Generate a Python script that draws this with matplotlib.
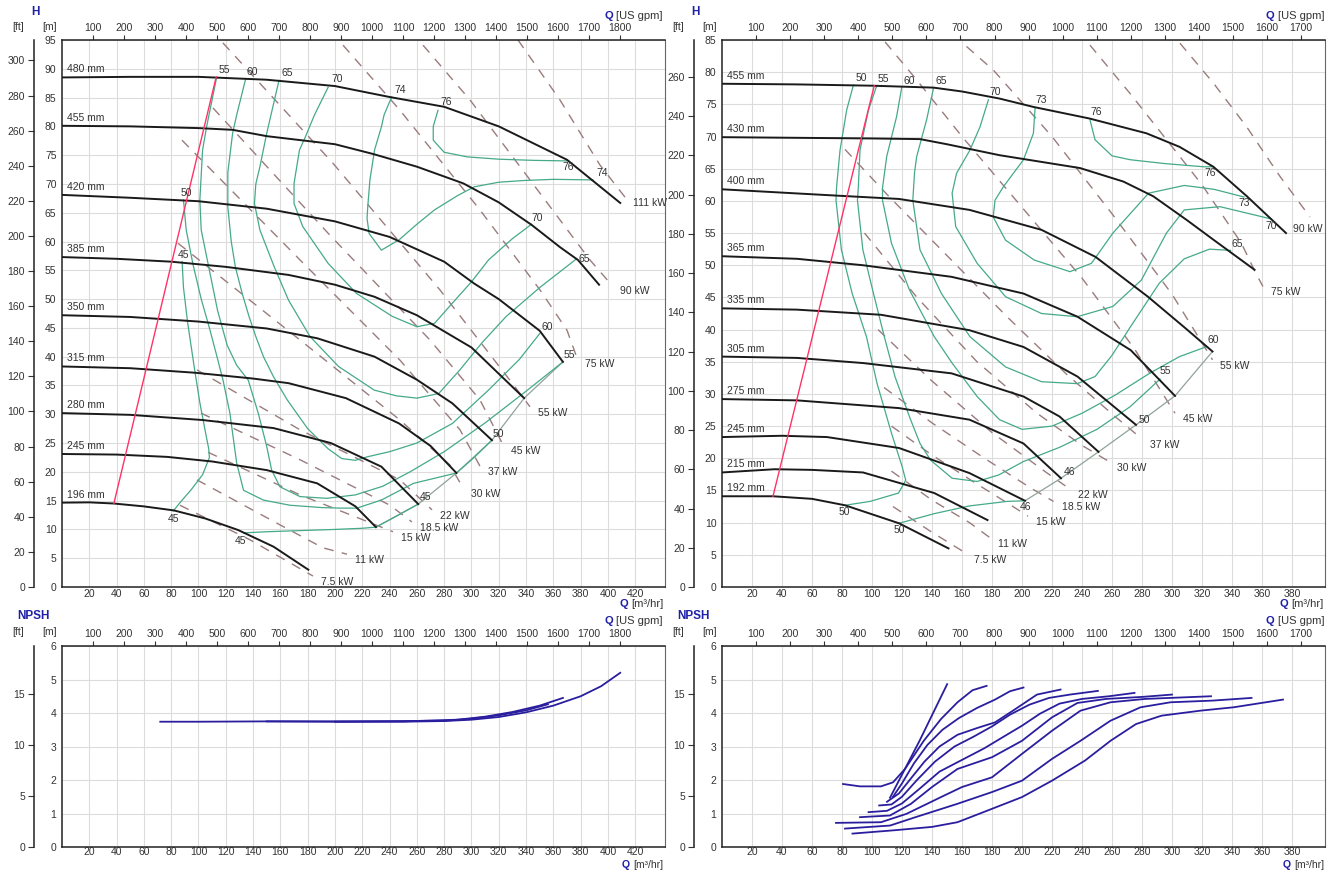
import numpy as np
import matplotlib
matplotlib.use("Agg")
import matplotlib.pyplot as plt

plt.rcParams['font.family'] = ['Liberation Sans', 'DejaVu Sans']

GPM = 4.402868   # US gpm per m3/h
FT = 3.28084     # ft per m

# ======================= LEFT PUMP : H curves =======================
L_q_480 = [0, 50, 100, 150, 200, 240, 280, 320, 370, 409]
L_h_480 = [88.5, 88.6, 88.6, 88.1, 87.0, 85.1, 83.4, 80.0, 74.2, 66.7]
L_q_455 = [0, 50, 100, 125, 150, 200, 228, 260, 294, 320, 344, 365, 378, 393.5]
L_h_455 = [80.1, 80.0, 79.7, 79.4, 78.3, 76.9, 75.2, 73.0, 70.1, 66.8, 62.9, 59.0, 56.8, 52.5]
L_q_420 = [0, 50, 100, 150, 200, 240, 280, 302, 320, 350, 367]
L_h_420 = [68.1, 67.6, 67.0, 65.7, 63.5, 60.8, 56.5, 52.7, 50.0, 44.5, 39.1]
L_q_385 = [0, 40, 80, 120, 166, 200, 229, 260, 300, 338.6]
L_h_385 = [57.3, 57.0, 56.5, 55.6, 54.2, 52.5, 50.4, 47.2, 41.6, 32.8]
L_q_350 = [0, 50, 100, 150, 187, 229, 260, 286, 315]
L_h_350 = [47.2, 46.9, 46.1, 44.9, 43.2, 40.0, 36.0, 31.9, 25.5]
L_q_315 = [0, 50, 98, 140, 166, 208, 247, 270, 289]
L_h_315 = [38.3, 38.0, 37.2, 36.2, 35.4, 32.8, 28.4, 24.5, 19.8]
L_q_280 = [0, 50, 103, 155, 197, 234, 261]
L_h_280 = [30.2, 29.9, 29.0, 27.6, 25.0, 20.9, 14.4]
L_q_245 = [0, 40, 77, 110, 150, 187, 215, 230]
L_h_245 = [23.1, 23.0, 22.6, 21.8, 20.3, 18.0, 14.0, 10.4]
L_q_196 = [0, 20, 38, 60, 82, 105, 129, 155, 180.5]
L_h_196 = [14.65, 14.7, 14.5, 14.0, 13.3, 11.9, 9.9, 7.0, 3.0]
L_diam_names = ['480 mm', '455 mm', '420 mm', '385 mm', '350 mm', '315 mm', '280 mm', '245 mm', '196 mm']
L_q_min = [38, 113]
L_h_min = [14.5, 88.6]

# efficiency iso-lines (left)
L_q_e45a = [88, 89, 92, 97, 101, 105, 107.5, 108, 103, 95, 87, 81.5]
L_h_e45a = [56.5, 52, 46, 38, 32, 27, 24, 22.5, 19.5, 17, 14.8, 13.2]
L_q_e45b = [133, 150, 175, 200, 220, 230, 245, 261]
L_h_e45b = [9.4, 9.6, 9.8, 10.0, 10.2, 10.4, 12.3, 14.4]
L_q_e50 = [89, 91, 96, 102, 108, 113, 118, 123, 128, 133, 147.5, 167, 190, 204, 216, 234, 257.5, 289, 302, 315]
L_h_e50 = [67.2, 62, 56, 50, 45, 40.5, 35.9, 30.2, 21.5, 16.8, 15.1, 14.2, 13.8, 13.7, 13.7, 15.1, 18.0, 19.8, 22.5, 25.5]
L_q_e55 = [113.3, 106, 103, 101, 102, 108, 114, 121, 128, 136.5, 144, 150, 153.6, 159.7, 174.4, 194, 215, 235, 255, 280, 310, 340, 367]
L_h_e55 = [88.5, 80, 75.9, 67.2, 62, 55, 48, 42, 38.5, 35.9, 30, 24.4, 20.3, 17.4, 15.7, 15.4, 16, 17.5, 20, 23.5, 28.5, 34, 39.1]
L_q_e60 = [134.6, 128, 125, 121.5, 121.5, 124, 127, 132, 137, 142, 147.6, 155, 165, 180, 195, 205, 215, 223.5, 240, 260, 286, 312.5, 335, 350]
L_h_e60 = [88.3, 82, 78.8, 72, 66, 60, 55.6, 51, 47, 43.5, 40, 36.5, 32.5, 27.5, 24, 22.3, 22, 22.6, 23.5, 25, 28.4, 34.2, 39.5, 44.0]
L_q_e65 = [159, 150, 145, 142, 141, 145, 155.5, 166, 181.7, 202.6, 228.7, 245, 260, 276, 291.5, 308, 325.5, 350, 377]
L_h_e65 = [88, 78.8, 73, 70, 66.6, 62, 55.6, 49.8, 43.5, 38.3, 34.2, 33.2, 32.8, 33.6, 37.7, 42.5, 47, 52, 57.0]
L_q_e70 = [195, 185, 178, 174, 172, 170, 170, 176.4, 195, 215.7, 242, 260, 273, 286, 300, 312.5, 330, 344]
L_h_e70 = [86.8, 82, 78, 75.9, 73, 70.1, 66.6, 62.6, 56.2, 51, 47, 45.2, 45.8, 49.3, 53, 56.8, 60.5, 63]
L_q_e74 = [241.5, 236, 234, 229, 225.6, 224, 223.5, 225, 234, 247, 260, 273, 290, 302, 320, 338.6, 360, 389]
L_h_e74 = [85.1, 82, 79.9, 75.9, 70.7, 66, 64, 61.4, 58.5, 60.3, 63, 65.5, 68, 69.5, 70.3, 70.6, 70.8, 70.7]
L_q_e76 = [275.5, 272, 272, 280, 297, 320, 345, 370]
L_h_e76 = [82.8, 80, 77.6, 75.5, 74.7, 74.3, 74.1, 74.0]

# power lines (left)
L_q_p111 = [334.1, 364.8, 394.1, 412.5]
L_h_p111 = [95.0, 84.6, 73.3, 67.7]
L_q_p90 = [264.5, 298.9, 342.9, 386.8, 402.9]
L_h_p90 = [94.1, 84.6, 70.7, 56.8, 52.4]
L_q_p75 = [205.9, 247.6, 306.2, 350.2, 370.0, 377.3]
L_h_p75 = [94.1, 82.8, 65.5, 51.6, 44.6, 39.8]
L_q_p55 = [117.9, 198.5, 276.9, 328.2, 342.9]
L_h_p55 = [94.5, 73.6, 51.6, 35.9, 31.3]
L_q_p45 = [110.6, 196.3, 269.6, 306.2, 323.1]
L_h_p45 = [83.2, 61.1, 42.9, 32.5, 24.7]
L_q_p37 = [87.9, 174.4, 247.6, 291.6, 306.2]
L_h_p37 = [77.6, 56.8, 39.4, 27.3, 21.0]
L_q_p30 = [85, 174.4, 247.6, 284.2, 293.8]
L_h_p30 = [59.7, 42.9, 29.0, 21.2, 17.2]
L_q_p22 = [98.9, 174.4, 247.6, 271.1]
L_h_p22 = [37.7, 27.3, 18.6, 13.4]
L_q_p18 = [101.8, 174.4, 240.3, 256.4]
L_h_p18 = [30.2, 22.1, 14.2, 11.3]
L_q_p15 = [107, 174.4, 242.5]
L_h_p15 = [23.4, 16.0, 9.6]
L_q_p11 = [98.9, 159.7, 191.2, 208.8]
L_h_p11 = [18.6, 10.8, 6.8, 5.7]
L_q_p7 = [86.4, 137.7, 183.9]
L_h_p7 = [14.2, 8.2, 1.9]

# ======================= RIGHT PUMP : H curves =======================
R_q_455 = [0, 50, 100, 141, 160, 185, 207.6, 245, 283, 305, 327.6, 350, 376]
R_h_455 = [78.2, 78.1, 77.9, 77.6, 77.0, 75.9, 74.6, 72.8, 70.5, 68.4, 65.3, 60.7, 55.0]
R_q_430 = [0, 50, 100, 132, 150, 185, 238.7, 267.6, 287.6, 310, 328, 355]
R_h_430 = [69.9, 69.8, 69.7, 69.6, 68.8, 67.1, 65.1, 63.0, 60.7, 57.0, 53.9, 49.3]
R_q_400 = [0, 70, 118, 165, 213, 249, 284, 308, 327]
R_h_400 = [61.8, 60.9, 60.3, 58.6, 55.5, 51.3, 45.1, 40.4, 36.6]
R_q_365 = [0, 50, 94, 153, 201, 237, 272.5, 302]
R_h_365 = [51.4, 51.0, 50.0, 48.2, 45.6, 42.0, 36.8, 29.7]
R_q_335 = [0, 50, 106, 165, 201, 237, 276]
R_h_335 = [43.3, 43.1, 42.3, 39.9, 37.3, 32.7, 25.2]
R_q_305 = [0, 50, 94, 153, 201, 225, 251]
R_h_305 = [35.8, 35.6, 34.8, 33.2, 29.6, 26.5, 21.0]
R_q_275 = [0, 50, 118, 165, 201, 226]
R_h_275 = [29.2, 29.0, 27.8, 26.0, 22.3, 16.9]
R_q_245 = [0, 40, 70, 118, 165, 202]
R_h_245 = [23.3, 23.5, 23.3, 21.6, 17.7, 13.4]
R_q_215 = [0, 35, 60, 94, 141.5, 177]
R_h_215 = [17.8, 18.3, 18.2, 17.8, 14.6, 10.4]
R_q_192 = [0, 34, 60, 82, 118, 151]
R_h_192 = [14.1, 14.1, 13.7, 12.7, 9.9, 6.0]
R_diam_names = ['455 mm', '430 mm', '400 mm', '365 mm', '335 mm', '305 mm', '275 mm', '245 mm', '215 mm', '192 mm']
R_q_min = [34, 101.5]
R_h_min = [14.1, 77.9]

# efficiency iso-lines (right)
R_q_e50a = [87.6, 83.1, 78.7, 76.4, 76, 79.6, 86.8, 96.3, 103.4, 113, 120.1, 122.5, 117.7, 98.7, 82]
R_h_e50a = [78.0, 74.1, 67.9, 62.2, 60.1, 52.4, 45.6, 38.9, 31.6, 23.9, 18.7, 16.6, 14.6, 13.3, 12.7]
R_q_e50b = [118, 141.5, 165, 190, 202]
R_h_e50b = [9.9, 11.4, 12.6, 13.3, 13.4]
R_q_e55 = [103, 97.6, 92, 90.9, 90.3, 93.9, 101, 108.2, 115.3, 124.9, 132, 139.1, 153.4, 170.1, 184.4, 201, 225, 250, 272, 292]
R_h_e55 = [77.8, 74.1, 67.9, 62.2, 60.1, 52.4, 45.6, 38.9, 32.7, 26.5, 22.3, 19.7, 16.9, 16.4, 17.4, 19.5, 21.7, 24.5, 28.0, 32.3]
R_q_e60 = [119.8, 116.4, 109.8, 107, 107, 113, 124.9, 141.5, 153.4, 170.1, 185, 200, 220, 240, 262, 285, 305, 322.5]
R_h_e60 = [77.6, 73.1, 66.9, 62, 60.1, 53.4, 46.2, 38.9, 34.8, 29.6, 26, 24.5, 25, 27, 29.8, 33.2, 35.8, 37.3]
R_q_e65 = [141, 136.4, 129.8, 128.4, 127.2, 132, 146.3, 165.3, 189, 213, 236.8, 248.7, 260, 272.5, 291.5, 308.2, 325, 339]
R_h_e65 = [77.5, 72.6, 66.9, 64.5, 60.1, 52.4, 45.6, 38.9, 34.2, 31.9, 31.6, 32.7, 36, 40.5, 47.2, 51.0, 52.5, 52.3]
R_q_e70 = [177.6, 172, 165.3, 156.4, 153.4, 155.8, 170.1, 189.1, 213, 236.8, 260.6, 279.6, 296.3, 308.2, 332, 366]
R_h_e70 = [75.7, 71.5, 67.9, 64.3, 61.2, 56, 50.3, 45.1, 42.5, 42, 43.6, 47.7, 55, 58.6, 59.1, 57.2]
R_q_e73 = [208.7, 207.6, 201, 187.6, 182, 180.8, 189, 208.2, 232, 246.3, 260.6, 284.4, 308.2, 328, 348]
R_h_e73 = [74.4, 70.5, 66.4, 62.2, 60.1, 57.5, 53.9, 50.8, 49.0, 50.3, 55, 61.2, 62.4, 61.8, 60.6]
R_q_e76 = [245.3, 248.7, 260, 272, 295, 321, 327]
R_h_e76 = [72.6, 69.5, 67, 66.4, 65.8, 65.3, 65.3]

# power lines (right)
R_q_p90 = [305.3, 327.6, 349.8, 372, 392]
R_h_p90 = [84.5, 78.3, 71.5, 63.8, 57.5]
R_q_p75 = [245.3, 272, 296.4, 320, 346.3, 355.8, 360.6]
R_h_p75 = [84.2, 76.7, 69.5, 62.5, 53.4, 48.8, 46.7]
R_q_p55 = [163, 181, 220, 260, 300, 327]
R_h_p55 = [84, 80.3, 70, 58, 45.5, 35.3]
R_q_p45 = [108.7, 129.8, 160, 200, 240, 275, 302]
R_h_p45 = [84.7, 78.8, 70, 59, 48, 37, 27]
R_q_p37 = [82, 110, 150, 190, 230, 262, 280]
R_h_p37 = [68, 61, 51.5, 42, 33, 26.5, 23]
R_q_p30 = [95, 130, 170, 210, 240, 258]
R_h_p30 = [55, 45, 35, 27, 22, 19.5]
R_q_p22 = [104, 140, 180, 215, 232]
R_h_p22 = [40, 32, 24, 18, 15.2]
R_q_p18 = [108, 140, 175, 205, 221]
R_h_p18 = [31, 25.5, 20, 15.5, 13.3]
R_q_p15 = [113, 140, 170, 192, 204]
R_h_p15 = [25, 20.5, 16, 12.8, 11]
R_q_p11 = [113, 140, 165, 179]
R_h_p11 = [18, 13.5, 10, 7.6]
R_q_p7 = [114, 140, 163]
R_h_p7 = [12.5, 8.5, 5.2]

# ======================= NPSH =======================
NL_q_a = [72, 100, 150, 200, 250, 280, 300, 320, 340, 360, 380, 395, 409]
NL_h_a = [3.74, 3.74, 3.75, 3.74, 3.74, 3.76, 3.80, 3.88, 4.02, 4.22, 4.50, 4.80, 5.20]
NL_q_b = [150, 250, 290, 310, 330, 350, 367]
NL_h_b = [3.75, 3.75, 3.80, 3.89, 4.03, 4.22, 4.45]
NL_q_c = [200, 280, 300, 320, 340, 356]
NL_h_c = [3.74, 3.77, 3.83, 3.93, 4.08, 4.26]

NR_q_455 = [87, 115, 140, 157, 180, 200, 220, 242, 259, 276, 293, 319, 341, 374]
NR_h_455 = [0.40, 0.50, 0.60, 0.74, 1.14, 1.49, 1.98, 2.58, 3.17, 3.67, 3.92, 4.07, 4.17, 4.40]
NR_q_430 = [82, 112, 129, 157, 180, 200, 220, 239, 259, 279, 299, 327, 353]
NR_h_430 = [0.55, 0.64, 0.89, 1.29, 1.64, 1.98, 2.63, 3.17, 3.77, 4.17, 4.32, 4.37, 4.45]
NR_q_400 = [76, 106, 123, 146, 160, 180, 200, 220, 239, 259, 282, 326]
NR_h_400 = [0.72, 0.74, 0.99, 1.49, 1.79, 2.08, 2.78, 3.47, 4.07, 4.32, 4.42, 4.50]
NR_q_365 = [92, 112, 126, 140, 157, 180, 200, 220, 237, 256, 280, 300]
NR_h_365 = [0.89, 0.94, 1.29, 1.79, 2.33, 2.68, 3.17, 3.87, 4.30, 4.42, 4.48, 4.55]
NR_q_335 = [97.7, 110, 120, 132, 145, 160, 175, 188, 200, 212, 225, 240, 258, 275]
NR_h_335 = [1.04, 1.08, 1.30, 1.75, 2.25, 2.60, 2.95, 3.30, 3.62, 3.98, 4.28, 4.42, 4.50, 4.60]
NR_q_305 = [104.8, 113, 120, 130, 142, 155, 168, 180, 192, 205, 218, 232, 250.6]
NR_h_305 = [1.24, 1.27, 1.50, 2.00, 2.55, 3.00, 3.30, 3.60, 3.95, 4.25, 4.45, 4.55, 4.66]
NR_q_275 = [110, 118, 126, 135, 145, 157, 170, 182, 195, 210, 225.7]
NR_h_275 = [1.35, 1.60, 2.05, 2.55, 3.00, 3.35, 3.55, 3.72, 4.10, 4.55, 4.70]
NR_q_245 = [114, 120, 128, 137, 147, 158, 170, 182, 192, 201]
NR_h_245 = [1.50, 1.90, 2.50, 3.05, 3.50, 3.85, 4.15, 4.40, 4.65, 4.76]
NR_q_215 = [80.7, 92, 106, 114, 122, 134.5, 146, 157, 167, 176.4]
NR_h_215 = [1.88, 1.81, 1.81, 1.93, 2.33, 3.17, 3.82, 4.32, 4.68, 4.81]
NR_q_192 = [112, 131.7, 150.1]
NR_h_192 = [1.47, 3.17, 4.86]

# axis ticks
L_xticks = list(range(20, 421, 20))
R_xticks = list(range(20, 381, 20))
L_gpm = list(range(100, 1801, 100))
R_gpm = list(range(100, 1701, 100))
L_yticks = list(range(0, 96, 5))
R_yticks = list(range(0, 86, 5))
L_ft = list(range(0, 301, 20))
R_ft = list(range(0, 261, 20))
N_yticks = [0, 1, 2, 3, 4, 5, 6]
N_ft = [0, 5, 10, 15]

# ======================= FIGURE =======================
W, HP = 1330, 871
fig = plt.figure(figsize=(W / 100, HP / 100), dpi=100)
fig.patch.set_facecolor('white')

def rect(x0, y0, x1, y1):
    return [x0 / W, 1 - y1 / HP, (x1 - x0) / W, (y1 - y0) / HP]

axA = fig.add_axes(rect(62, 40, 665, 587))
axB = fig.add_axes(rect(722, 40, 1325, 587))
axC = fig.add_axes(rect(62, 646, 665, 847))
axD = fig.add_axes(rect(722, 646, 1325, 847))

TXT = '#333333'
BLUE = '#1f1fa8'
FS = 7.5
GREEN = '#45a98a'
ENDC = '#8fa39a'
PWR = '#9a7c7c'
CURVE = '#1a1a1a'
NPSHC = '#2a1e9e'


def style(ax, xmax, ymax, xt, gpm, yt, ft, ftloc, xpad):
    ax.set_xlim(0, xmax)
    ax.set_ylim(0, ymax)
    ax.set_xticks(xt)
    ax.set_yticks(yt)
    ax.grid(True, color='#dcdcdc', lw=0.8)
    ax.set_axisbelow(True)
    ax.tick_params(axis='x', length=0, labelsize=FS, colors=TXT, pad=xpad)
    ax.tick_params(axis='y', length=0, labelsize=FS, colors=TXT, pad=4)
    for s in ['left', 'bottom', 'top']:
        ax.spines[s].set_color('#222222')
        ax.spines[s].set_linewidth(1.1)
    ax.spines['right'].set_color('#666666')
    ax.spines['right'].set_linewidth(0.8)
    sx = ax.secondary_xaxis('top', functions=(lambda q: q * GPM, lambda g: g / GPM))
    sx.set_xticks(gpm)
    sx.tick_params(direction='out', length=3.5, width=0.8, labelsize=FS, colors=TXT, pad=1.5)
    sx.spines['top'].set_visible(False)
    sy = ax.secondary_yaxis(ftloc, functions=(lambda m: m * FT, lambda f: f / FT))
    sy.set_yticks(ft)
    sy.tick_params(direction='out', length=4, width=0.8, labelsize=FS, colors=TXT, pad=2.5)
    sy.spines['left'].set_color('#222222')
    sy.spines['left'].set_linewidth(1.1)


FTLOC = (34 - 62) / 603.0
style(axA, 441.8, 95, L_xticks, L_gpm, L_yticks, L_ft, FTLOC, 1.5)
style(axB, 402.0, 85, R_xticks, R_gpm, R_yticks, R_ft, FTLOC, 1.5)
style(axC, 441.8, 6, L_xticks, L_gpm, N_yticks, N_ft, FTLOC, 0.3)
style(axD, 402.0, 6, R_xticks, R_gpm, N_yticks, N_ft, FTLOC, 0.3)


def lab(ax, s, x, y, dx, dy, ha='left', va='bottom', size=FS):
    ax.annotate(s, xy=(x, y), xytext=(dx, dy), textcoords='offset pixels',
                ha=ha, va=va, fontsize=size, color=TXT, zorder=6)


# ---------- LEFT H chart ----------
L_curves = [(L_q_480, L_h_480), (L_q_455, L_h_455), (L_q_420, L_h_420), (L_q_385, L_h_385),
            (L_q_350, L_h_350), (L_q_315, L_h_315), (L_q_280, L_h_280), (L_q_245, L_h_245),
            (L_q_196, L_h_196)]
L_power = [('111 kW', L_q_p111, L_h_p111), ('90 kW', L_q_p90, L_h_p90), ('75 kW', L_q_p75, L_h_p75),
           ('55 kW', L_q_p55, L_h_p55), ('45 kW', L_q_p45, L_h_p45), ('37 kW', L_q_p37, L_h_p37),
           ('30 kW', L_q_p30, L_h_p30), ('22 kW', L_q_p22, L_h_p22), ('18.5 kW', L_q_p18, L_h_p18),
           ('15 kW', L_q_p15, L_h_p15), ('11 kW', L_q_p11, L_h_p11), ('7.5 kW', L_q_p7, L_h_p7)]
L_eff = [L_q_e45a, L_h_e45a, L_q_e45b, L_h_e45b, L_q_e50, L_h_e50, L_q_e55, L_h_e55,
         L_q_e60, L_h_e60, L_q_e65, L_h_e65, L_q_e70, L_h_e70, L_q_e74, L_h_e74, L_q_e76, L_h_e76]

for name, q, h in L_power:
    axA.plot(q, h, color=PWR, lw=1.0, dashes=(7, 6), zorder=2)
    lab(axA, name, q[-1], h[-1], 8, -6, ha='left', va='center')

# end-of-curve line (245 .. 420 mm)
axA.plot([c[0][-1] for c in L_curves[2:8]], [c[1][-1] for c in L_curves[2:8]], color=ENDC, lw=0.9, zorder=3)
for i in range(0, len(L_eff), 2):
    axA.plot(L_eff[i], L_eff[i + 1], color=GREEN, lw=0.9, zorder=3)

for (q, h), nm in zip(L_curves, L_diam_names):
    axA.plot(q, h, color=CURVE, lw=1.4, zorder=4)
    lab(axA, nm, q[0], h[0], 5, 3)
axA.plot(L_q_min, L_h_min, color='#ff3366', lw=1.0, zorder=5)

# efficiency labels (left)
lab(axA, '45', L_q_e45a[0], L_h_e45a[0], 1, 2, ha='center')
lab(axA, '45', L_q_e45a[-1], L_h_e45a[-1], 0, -3, ha='center', va='top')
lab(axA, '45', L_q_e45b[0], L_h_e45b[0], -3, -3, ha='center', va='top')
lab(axA, '45', L_q_e45b[-1], L_h_e45b[-1], 2, 2)
lab(axA, '50', L_q_e50[0], L_h_e50[0], 3, 2, ha='center')
lab(axA, '50', L_q_e50[-1], L_h_e50[-1], 1, 1)
lab(axA, '55', L_q_e55[0], L_h_e55[0], 2, 2)
lab(axA, '55', L_q_e55[-1], L_h_e55[-1], 1, 2)
lab(axA, '60', L_q_e60[0], L_h_e60[0], 1, 2)
lab(axA, '60', L_q_e60[-1], L_h_e60[-1], 2, 2)
lab(axA, '65', L_q_e65[0], L_h_e65[0], 2, 2)
lab(axA, '65', L_q_e65[-1], L_h_e65[-1], 2, 0, va='center')
lab(axA, '70', L_q_e70[0], L_h_e70[0], 3, 3)
lab(axA, '70', L_q_e70[-1], L_h_e70[-1], 0, 1)
lab(axA, '74', L_q_e74[0], L_h_e74[0], 3, 2)
lab(axA, '74', L_q_e74[-1], L_h_e74[-1], 4, 2)
lab(axA, '76', L_q_e76[0], L_h_e76[0], 2, 3)
lab(axA, '76', L_q_e76[-1], L_h_e76[-1], 1, -1, ha='center', va='top')

# ---------- RIGHT H chart ----------
R_curves = [(R_q_455, R_h_455), (R_q_430, R_h_430), (R_q_400, R_h_400), (R_q_365, R_h_365),
            (R_q_335, R_h_335), (R_q_305, R_h_305), (R_q_275, R_h_275), (R_q_245, R_h_245),
            (R_q_215, R_h_215), (R_q_192, R_h_192)]
R_power = [('90 kW', R_q_p90, R_h_p90), ('75 kW', R_q_p75, R_h_p75), ('55 kW', R_q_p55, R_h_p55),
           ('45 kW', R_q_p45, R_h_p45), ('37 kW', R_q_p37, R_h_p37), ('30 kW', R_q_p30, R_h_p30),
           ('22 kW', R_q_p22, R_h_p22), ('18.5 kW', R_q_p18, R_h_p18), ('15 kW', R_q_p15, R_h_p15),
           ('11 kW', R_q_p11, R_h_p11), ('7.5 kW', R_q_p7, R_h_p7)]
R_eff = [R_q_e50a, R_h_e50a, R_q_e50b, R_h_e50b, R_q_e55, R_h_e55, R_q_e60, R_h_e60,
         R_q_e65, R_h_e65, R_q_e70, R_h_e70, R_q_e73, R_h_e73, R_q_e76, R_h_e76]

for name, q, h in R_power:
    if name == '90 kW':
        lab(axB, name, q[-1], h[-1], -17, -12, ha='left', va='center')
    else:
        lab(axB, name, q[-1], h[-1], 8, -6, ha='left', va='center')
    axB.plot(q, h, color=PWR, lw=1.0, dashes=(7, 6), zorder=2)

axB.plot([c[0][-1] for c in R_curves[2:8]], [c[1][-1] for c in R_curves[2:8]], color=ENDC, lw=0.9, zorder=3)
for i in range(0, len(R_eff), 2):
    axB.plot(R_eff[i], R_eff[i + 1], color=GREEN, lw=0.9, zorder=3)

for (q, h), nm in zip(R_curves, R_diam_names):
    axB.plot(q, h, color=CURVE, lw=1.4, zorder=4)
    lab(axB, nm, q[0], h[0], 5, 3)
axB.plot(R_q_min, R_h_min, color='#ff3366', lw=1.0, zorder=5)

lab(axB, '50', R_q_e50a[0], R_h_e50a[0], 2, 2)
lab(axB, '50', R_q_e50a[-1], R_h_e50a[-1], -1, -2, ha='center', va='top')
lab(axB, '50', R_q_e50b[0], R_h_e50b[0], 0, -2, ha='center', va='top')
lab(axB, '55', R_q_e55[0], R_h_e55[0], 1, 2)
lab(axB, '55', R_q_e55[-1], R_h_e55[-1], 0, 3)
lab(axB, '60', R_q_e60[0], R_h_e60[0], 2, 2)
lab(axB, '60', R_q_e60[-1], R_h_e60[-1], 2, 2)
lab(axB, '65', R_q_e65[0], R_h_e65[0], 2, 2)
lab(axB, '65', R_q_e65[-1], R_h_e65[-1], 1, 1)
lab(axB, '70', R_q_e70[0], R_h_e70[0], 1, 3)
lab(axB, '70', R_q_e70[-1], R_h_e70[-1], 0, -2, ha='center', va='top')
lab(axB, '73', R_q_e73[0], R_h_e73[0], 0, 3)
lab(axB, '73', R_q_e73[-1], R_h_e73[-1], 0, -1, ha='center', va='top')
lab(axB, '76', R_q_e76[0], R_h_e76[0], 0, 3)
lab(axB, '76', R_q_e76[-1], R_h_e76[-1], -2, -1, ha='center', va='top')
# efficiency at curve ends
lab(axB, '50', R_q_335[-1], R_h_335[-1], 3, 0)
lab(axB, '46', R_q_275[-1], R_h_275[-1], 3, 1)
lab(axB, '46', R_q_245[-1], R_h_245[-1], 1, -1, ha='center', va='top')

# ---------- NPSH ----------
for q, h in [(NL_q_a, NL_h_a), (NL_q_b, NL_h_b), (NL_q_c, NL_h_c)]:
    axC.plot(q, h, color=NPSHC, lw=1.3, zorder=3)
for q, h in [(NR_q_455, NR_h_455), (NR_q_430, NR_h_430), (NR_q_400, NR_h_400), (NR_q_365, NR_h_365),
             (NR_q_335, NR_h_335), (NR_q_305, NR_h_305), (NR_q_275, NR_h_275), (NR_q_245, NR_h_245),
             (NR_q_215, NR_h_215), (NR_q_192, NR_h_192)]:
    axD.plot(q, h, color=NPSHC, lw=1.3, zorder=3)

# ---------- figure texts ----------
def ftext(x, y, s, **kw):
    return fig.text(x / W, 1 - y / HP, s, **kw)


def qlabel(xr, y, unit, fs):
    t = ftext(xr, y, unit, ha='right', va='center', fontsize=fs, color=TXT)
    fig.texts.append(matplotlib.text.Annotation('Q', xy=(0, 0.5), xycoords=t, xytext=(-3, 0),
                                                textcoords='offset pixels', ha='right', va='center',
                                                fontsize=fs, color=BLUE, fontweight='bold',
                                                figure=fig))

for x0 in (0, 660):
    ftext(x0 + 35, 12, 'H', ha='center', va='center', fontsize=8.5, color=BLUE, fontweight='bold')
    ftext(x0 + 18, 27, '[ft]', ha='center', va='center', fontsize=FS, color=TXT)
    ftext(x0 + 50, 27, '[m]', ha='center', va='center', fontsize=FS, color=TXT)
    ftext(x0 + 33, 616, 'NPSH', ha='center', va='center', fontsize=8.5, color=BLUE, fontweight='bold')
    ftext(x0 + 18, 632, '[ft]', ha='center', va='center', fontsize=FS, color=TXT)
    ftext(x0 + 50, 632, '[m]', ha='center', va='center', fontsize=FS, color=TXT)

for xr in (663, 1324):
    qlabel(xr, 604, '[m³/hr]', FS + 0.5)
    qlabel(xr, 16, '[US gpm]', FS + 0.5)
    qlabel(xr, 621, '[US gpm]', FS + 0.5)
    qlabel(xr, 865, '[m³/hr]', FS)

fig.savefig('out.png', dpi=100, facecolor='white')
